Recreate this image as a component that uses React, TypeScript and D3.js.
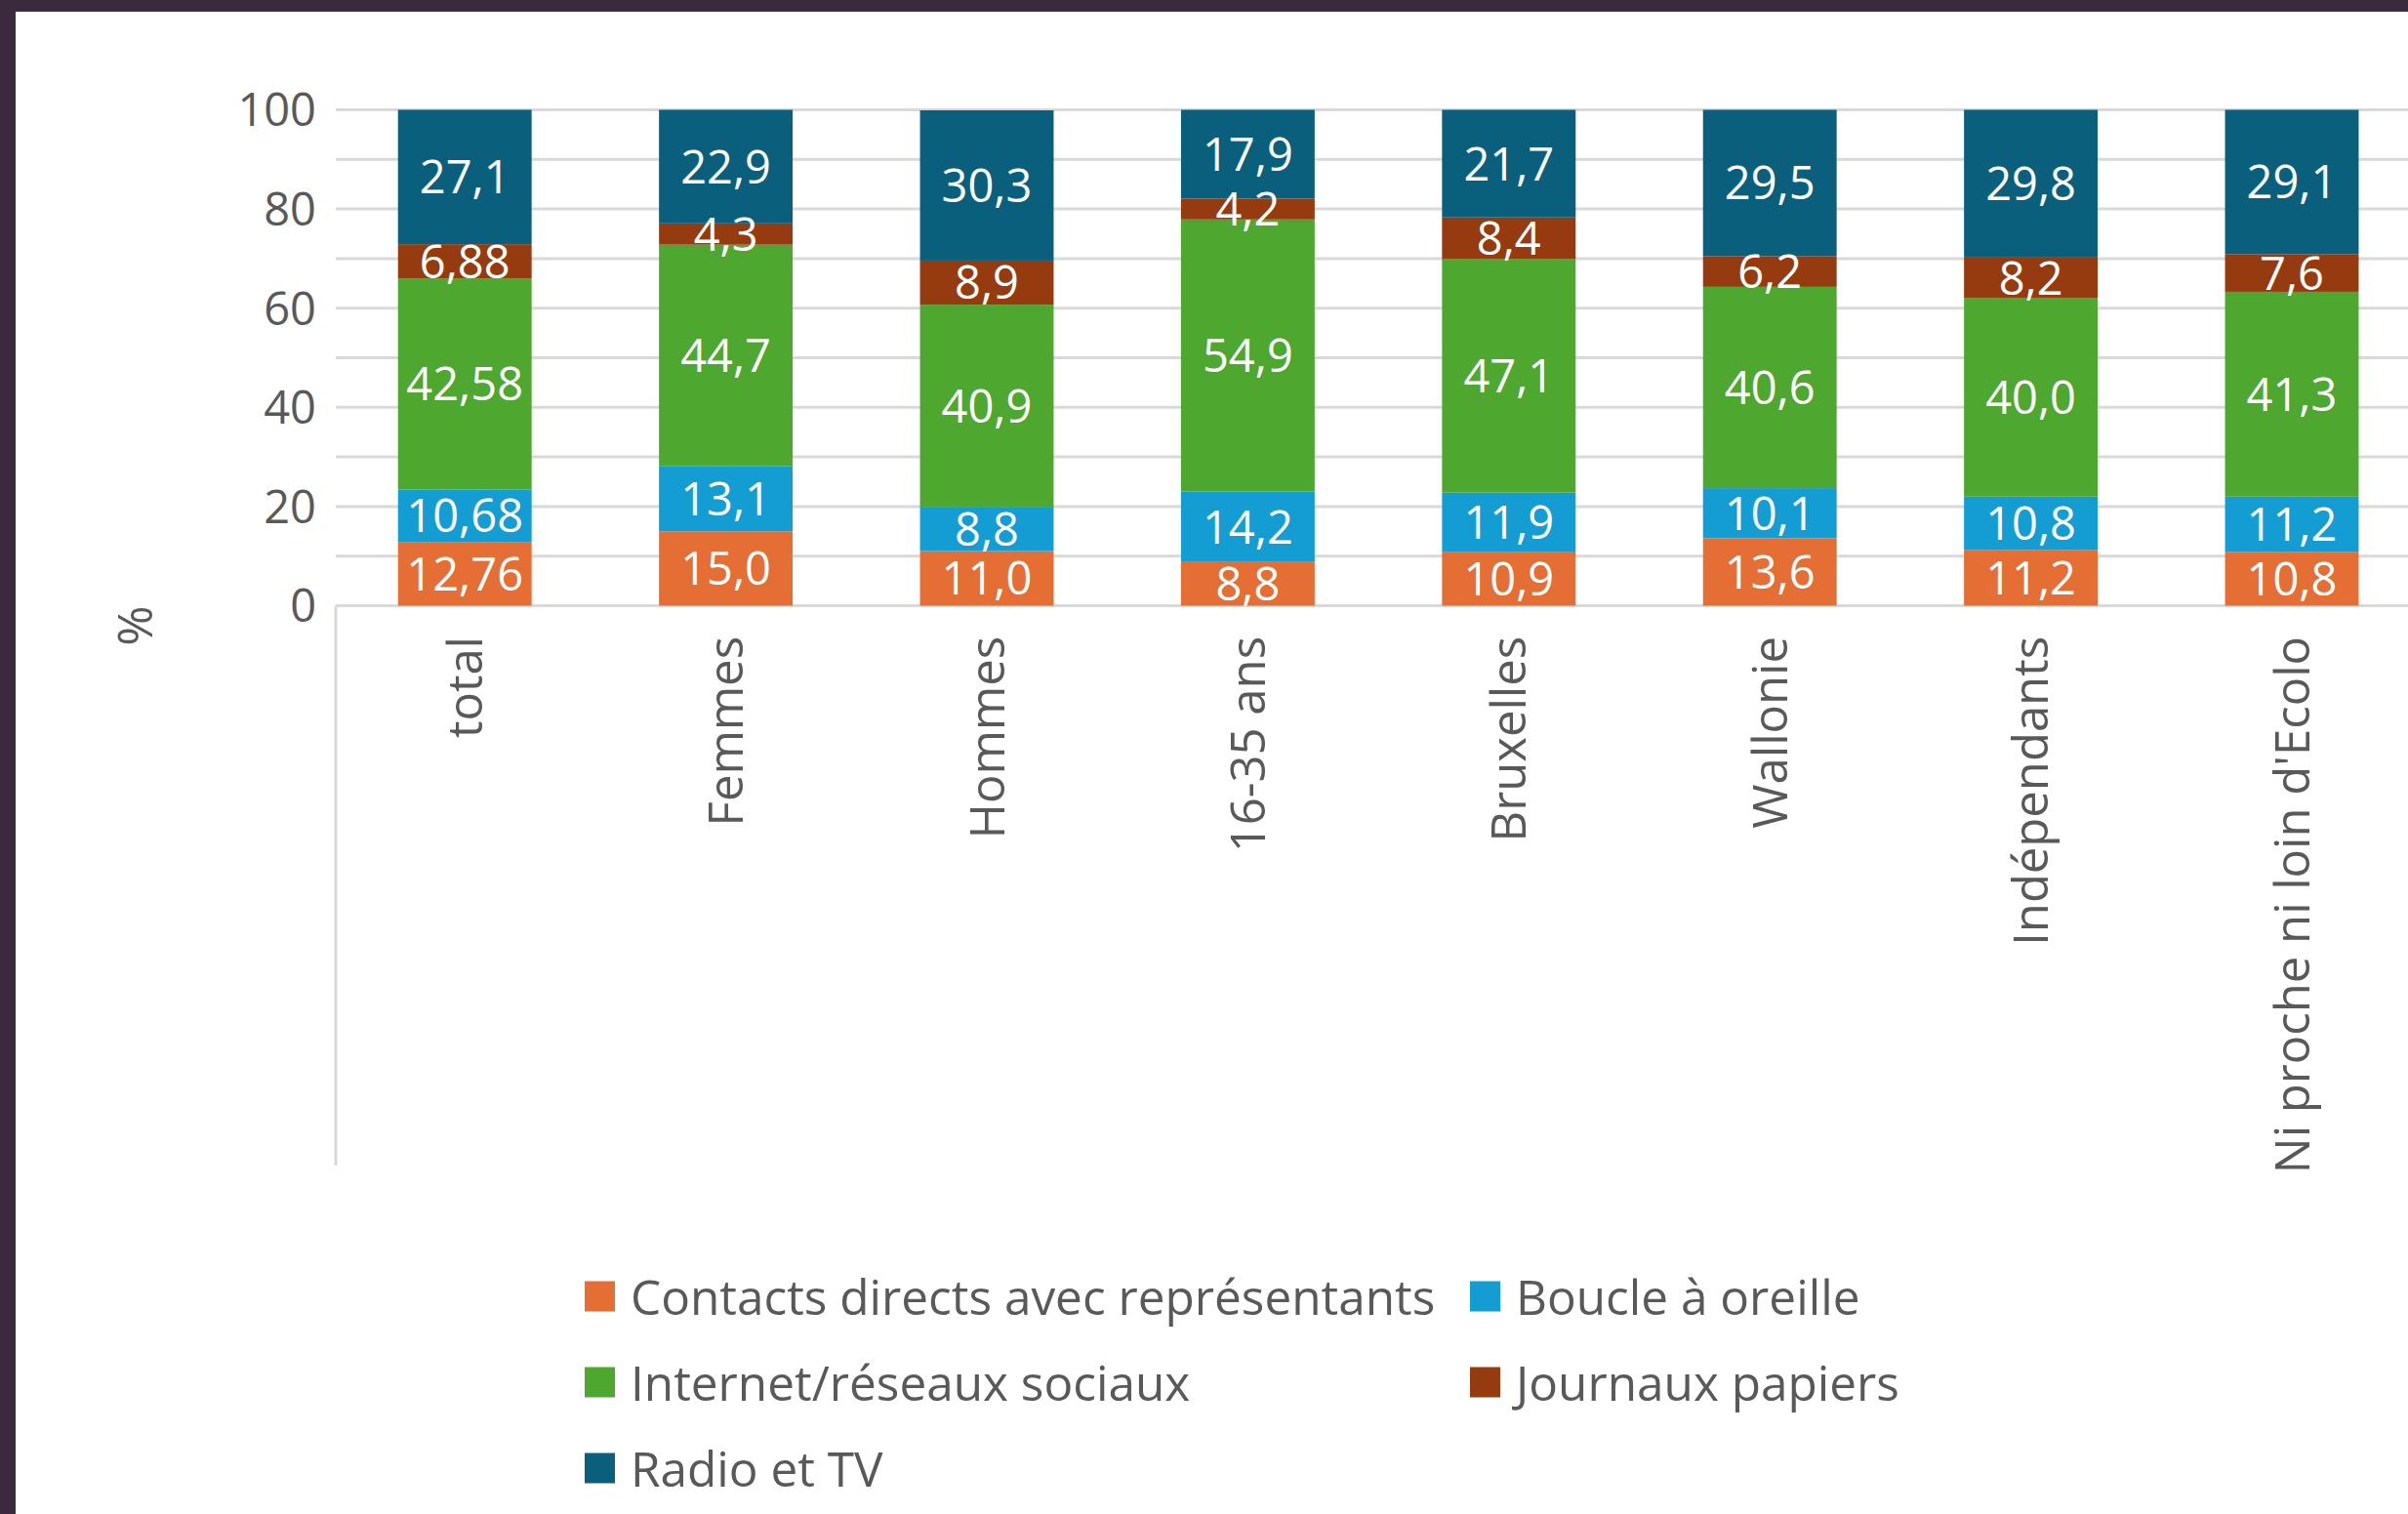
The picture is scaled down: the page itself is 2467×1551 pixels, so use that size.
import React from 'react';
import * as d3 from 'd3';

const categories = ['total', 'Femmes', 'Hommes', '16-35 ans', 'Bruxelles', 'Wallonie', 'Indépendants', "Ni proche ni loin d'Ecolo"];
const seriesNames = ['Contacts directs avec représentants', 'Boucle à oreille', 'Internet/réseaux sociaux', 'Journaux papiers', 'Radio et TV'];
const contacts = [12.76, 15.0, 11.0, 8.8, 10.9, 13.6, 11.2, 10.8];
const boucle = [10.68, 13.1, 8.8, 14.2, 11.9, 10.1, 10.8, 11.2];
const internet = [42.58, 44.7, 40.9, 54.9, 47.1, 40.6, 40.0, 41.3];
const journaux = [6.88, 4.3, 8.9, 4.2, 8.4, 6.2, 8.2, 7.6];
const radio = [27.1, 22.9, 30.3, 17.9, 21.7, 29.5, 29.8, 29.1];
const yTickLabels = [0, 20, 40, 60, 80, 100];
const gridValues = [0, 10, 20, 30, 40, 50, 60, 70, 80, 90, 100];
const colors = ['#E46E34', '#139DD3', '#4EA72E', '#963B0F', '#0A5F7D'];

const W = 2467;
const H = 1551;
const FONT = "'Open Sans', 'Noto Sans', sans-serif";
const TEXT = '#595959';
const GRID = '#d9d9d9';

const fmt = (v: number) => (Number.isInteger(v) ? v.toFixed(1) : String(v)).replace('.', ',');

export default function App() {
  const keys = ['contacts', 'boucle', 'internet', 'journaux', 'radio'];
  const seriesArrays = [contacts, boucle, internet, journaux, radio];
  const rows = categories.map((c, i) => {
    const r: any = { cat: c };
    keys.forEach((k, j) => (r[k] = seriesArrays[j][i]));
    return r;
  });
  const stacked = d3.stack<any>().keys(keys)(rows);

  const plotLeft = 344;
  const step = 267.4;
  const x = d3
    .scaleBand<string>()
    .domain(categories)
    .range([plotLeft - 1.5, plotLeft - 1.5 + step * categories.length])
    .paddingInner(0.488)
    .paddingOuter(0.244);
  const y = d3.scaleLinear().domain([0, 100]).range([620.5, 112.5]);

  const legendCols = [599, 1506];
  const legendRows = [1328, 1416, 1504];
  const sq = 31;

  return (
    <svg width={W} height={H} style={{ position: 'absolute', left: 0, top: 0, background: '#fff' }} xmlns="http://www.w3.org/2000/svg">
      <rect x={0} y={0} width={W} height={H} fill="#ffffff" />
      {/* frame */}
      <rect x={0} y={0} width={W} height={12} fill="#3b2a3d" />
      <rect x={0} y={0} width={16} height={H} fill="#3b2a3d" />

      {/* gridlines */}
      {gridValues.map((g) => (
        <line key={g} x1={plotLeft} x2={W} y1={y(g)} y2={y(g)} stroke={GRID} strokeWidth={3} />
      ))}
      {/* category axis left border */}
      <line x1={plotLeft} x2={plotLeft} y1={y(0)} y2={1194} stroke={GRID} strokeWidth={3} />

      {/* y tick labels */}
      {yTickLabels.map((t) => (
        <text key={t} x={324} y={y(t)} dy="0.36em" textAnchor="end" fontFamily={FONT} fontSize={47} fill={TEXT}>
          {t}
        </text>
      ))}

      {/* y title */}
      <text transform={`translate(138,641) rotate(-90)`} dy="0.36em" textAnchor="middle" fontFamily={FONT} fontSize={50} fill={TEXT}>
        %
      </text>

      {/* bars */}
      {stacked.map((s, si) => (
        <g key={s.key}>
          {s.map((d, i) => (
            <rect
              key={i}
              x={x(categories[i])}
              y={y(d[1])}
              width={x.bandwidth()}
              height={y(d[0]) - y(d[1])}
              fill={colors[si]}
            />
          ))}
        </g>
      ))}
      {/* data labels */}
      {stacked.map((s, si) => (
        <g key={'l' + s.key}>
          {s.map((d, i) => (
            <text
              key={i}
              x={(x(categories[i]) as number) + x.bandwidth() / 2}
              y={(y(d[0]) + y(d[1])) / 2}
              dy="0.36em"
              textAnchor="middle"
              fontFamily={FONT}
              fontSize={47}
              fill="#ffffff"
            >
              {fmt(seriesArrays[si][i])}
            </text>
          ))}
        </g>
      ))}

      {/* category labels */}
      {categories.map((c) => (
        <text
          key={c}
          transform={`translate(${(x(c) as number) + x.bandwidth() / 2},652) rotate(-90)`}
          dy="0.36em"
          textAnchor="end"
          fontFamily={FONT}
          fontSize={49}
          fill={TEXT}
        >
          {c}
        </text>
      ))}

      {/* legend */}
      {seriesNames.map((n, i) => {
        const lx = legendCols[i % 2];
        const ly = legendRows[Math.floor(i / 2)];
        return (
          <g key={n}>
            <rect x={lx} y={ly - sq / 2} width={sq} height={sq} fill={colors[i]} />
            <text x={lx + 47} y={ly + 19} fontFamily={FONT} fontSize={49.5} fill={TEXT}>
              {n}
            </text>
          </g>
        );
      })}
    </svg>
  );
}
